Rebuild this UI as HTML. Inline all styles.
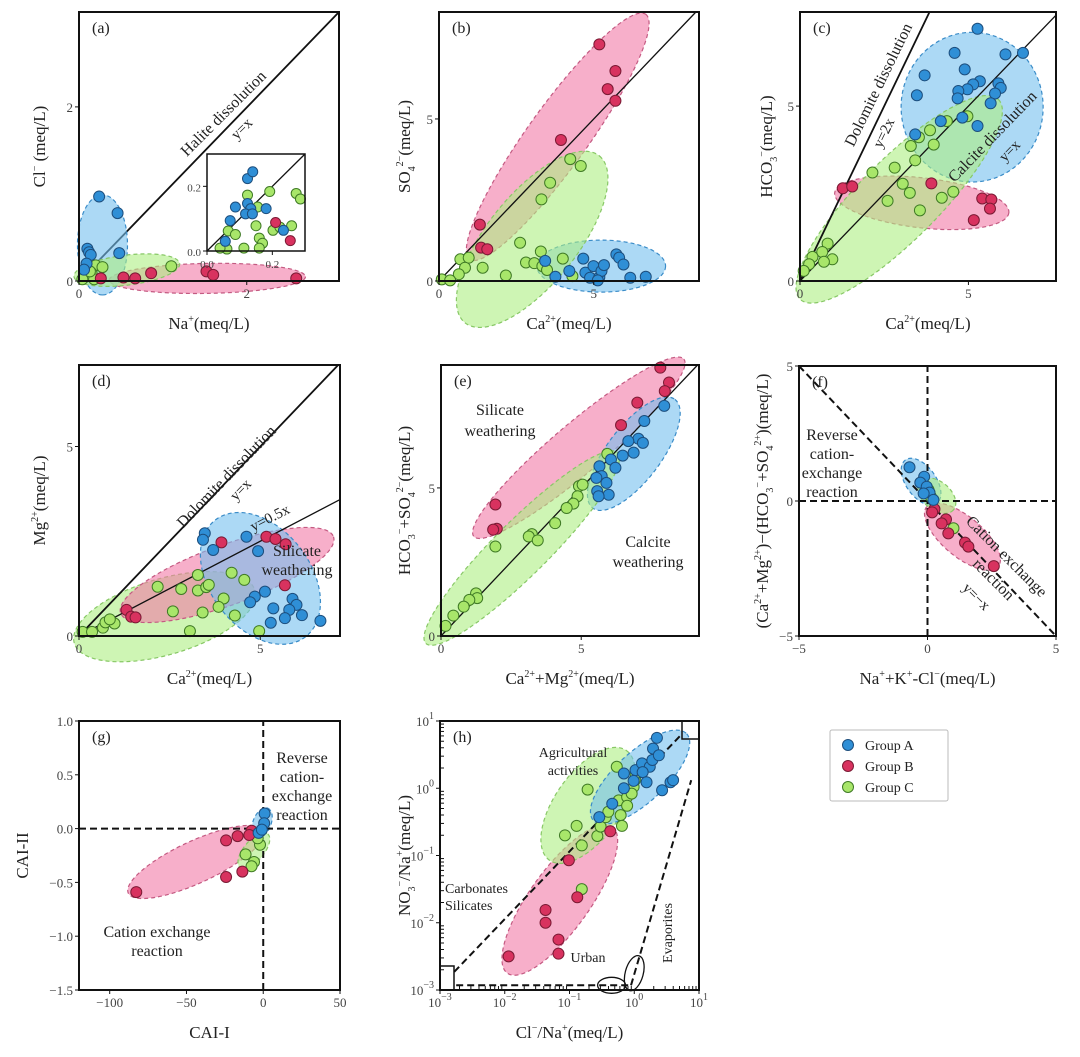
<!DOCTYPE html>
<html><head><meta charset="utf-8"><style>
body{margin:0;background:#fff}
svg{display:block;font-family:"Liberation Serif",serif}
</style></head><body>
<svg id="fig" width="1080" height="1057" viewBox="0 0 1080 1057" xmlns="http://www.w3.org/2000/svg"></svg>
<script>
// ---------- DATA ----------
// panel a (Na+ vs Cl-)
const aBlueX=[0.24,0.46,0.1,0.12,0.14,0.48,0.09,0.06];
const aBlueY=[0.97,0.78,0.37,0.33,0.3,0.32,0.2,0.13];
const aPinkX=[0.26,0.53,0.67,0.86,1.52,1.6,2.59];
const aPinkY=[0.03,0.04,0.03,0.09,0.11,0.07,0.03];
const aGreenX=[1.1,0.13,0.2,0.28,0.15,0.08,0.04,0.18,0.13];
const aGreenY=[0.17,0.16,0.18,0.16,0.09,0.05,0.02,0.02,0.11];
const insBlueX=[0.124,0.14,0.087,0.124,0.134,0.118,0.139,0.181,0.071,0.056,0.234];
const insBlueY=[0.224,0.245,0.136,0.147,0.131,0.115,0.115,0.131,0.094,0.03,0.064];
const insGreenX=[0.124,0.192,0.273,0.286,0.155,0.15,0.065,0.087,0.202,0.259,0.16,0.17,0.113,0.061,0.04,0.16,0.223];
const insGreenY=[0.173,0.184,0.178,0.161,0.136,0.078,0.062,0.051,0.064,0.078,0.04,0.024,0.009,0.006,0.009,0.009,0.074];
const insPinkX=[0.21,0.255];
const insPinkY=[0.088,0.032];
// panel b (Ca vs SO4)
const bPinkX=[5.18,5.7,5.45,5.7,3.94,1.32,1.36,1.56];
const bPinkY=[7.3,6.48,5.92,5.56,4.35,1.74,1.03,0.98];
const bGreenX=[4.24,4.58,3.59,3.31,2.62,0.69,0.96,0.84,0.64,1.41,0.09,0.36,2.16,2.81,3.08,3.29,3.34,3.49,4.0,4.31];
const bGreenY=[3.76,3.55,3.03,2.52,1.18,0.67,0.72,0.41,0.21,0.41,0.05,0.02,0.17,0.57,0.55,0.91,0.46,0.34,0.69,0.15];
const bBlueX=[3.43,3.76,4.21,4.66,4.73,4.99,4.88,5.18,5.25,5.33,5.73,5.82,5.96,6.18,6.68,5.13];
const bBlueY=[0.62,0.13,0.31,0.69,0.26,0.46,0.1,0.12,0.31,0.49,0.82,0.72,0.51,0.1,0.13,0.02];
// panel c (Ca vs HCO3)
const cBlueX=[5.27,4.59,6.62,6.1,4.89,3.7,5.34,5.14,4.97,4.7,5.89,5.96,3.47,4.68,5.79,5.66,4.18,4.82,5.27,3.42];
const cBlueY=[7.21,6.52,6.52,6.48,6.05,5.88,5.71,5.62,5.48,5.43,5.65,5.52,5.31,5.22,5.36,5.08,4.57,4.67,4.43,4.19];
const cGreenX=[4.97,4.36,3.86,3.53,3.29,3.97,3.42,2.81,2.15,3.05,3.26,2.6,4.21,4.55,3.56,0.82,0.66,0.96,0.71,0.37,0.27,0.11];
const cGreenY=[4.71,4.57,4.31,4.11,3.86,3.9,3.45,3.24,3.1,2.78,2.52,2.29,2.38,2.55,2.02,1.07,0.83,0.62,0.55,0.69,0.48,0.29];
const cPinkX=[1.27,1.55,3.9,5.41,5.68,5.64,5.16];
const cPinkY=[2.65,2.7,2.79,2.36,2.33,2.07,1.74];
// panel d (Ca vs Mg)
const dGreenX=[0.1,0.36,0.66,0.73,0.98,0.85,2.17,2.82,3.28,3.28,3.51,3.58,4.21,4.56,3.99,3.85,3.41,2.59,4.3,3.06,4.97];
const dGreenY=[0.11,0.11,0.22,0.36,0.33,0.44,1.3,1.24,1.61,1.2,1.29,1.35,1.67,1.48,0.99,0.77,0.62,0.65,0.54,0.13,0.13];
const dPinkX=[1.31,1.44,1.56,3.93,5.17,5.42,5.7,5.68];
const dPinkY=[0.69,0.51,0.49,2.47,2.62,2.56,2.42,1.34];
const dBlueX=[3.47,3.42,3.7,4.62,4.94,5.13,4.85,4.72,5.36,5.89,6.0,5.8,6.15,5.68,5.29,6.66];
const dBlueY=[2.71,2.54,2.27,2.62,2.24,1.17,1.04,0.89,0.73,0.98,0.82,0.69,0.55,0.47,0.35,0.4];
// panel e (Ca+Mg vs HCO3+SO4)
const ePinkX=[7.82,8.13,7.98,7.0,6.42,1.94,1.99,1.86];
const ePinkY=[9.06,8.56,8.27,7.88,7.12,4.44,3.62,3.59];
const eBlueX=[7.96,7.25,7.04,7.2,6.68,6.87,6.48,6.06,6.22,5.65,5.73,5.54,5.9,5.57,5.98,5.62];
const eBlueY=[7.77,7.26,6.66,6.52,6.58,6.19,6.09,5.96,5.68,5.73,5.4,5.34,5.17,4.89,4.77,4.72];
const eGreenX=[5.93,4.92,5.05,4.87,4.72,4.48,4.07,3.24,3.13,3.45,1.94,1.25,1.29,1.01,0.81,0.44,0.16];
const eGreenY=[6.15,5.06,5.11,4.72,4.47,4.32,3.81,3.44,3.36,3.23,3.02,1.44,1.28,1.22,0.99,0.69,0.34];
// panel f
const fBlueX=[-0.7,-0.13,-0.28,-0.03,0.08,0.23,-0.15];
const fBlueY=[1.25,0.9,0.68,0.53,0.31,0.04,0.28];
const fGreenX=[0.04,0.13,1.01];
const fGreenY=[0.41,0.16,-1.01];
const fPinkX=[0.27,0.18,0.72,0.55,0.81,1.46,1.59,2.58];
const fPinkY=[-0.3,-0.42,-0.68,-0.83,-1.2,-1.54,-1.69,-2.41];
// panel g (CAI-I vs CAI-II)
const gPinkX=[-82.7,-24.2,-16.7,-7.6,-24.2,-13.6,-9.1];
const gPinkY=[-0.59,-0.11,-0.07,-0.02,-0.45,-0.4,-0.06];
const gGreenX=[-11.5,-6,-7.6,-2.1,-3.6];
const gGreenY=[-0.24,-0.31,-0.35,-0.15,-0.09];
const gBlueX=[0.9,0.6,-3,-0.9];
const gBlueY=[0.14,0.05,-0.04,-0.01];
// panel h (log10 values of Cl/Na and NO3/Na)
const hPinkLX=[-1.94,-1.37,-1.37,-1.17,-1.17,-1.01,-0.88,-0.37];
const hPinkLY=[-2.5,-2.0,-1.81,-2.25,-2.46,-1.07,-1.62,-0.64];
const hGreenLX=[-0.81,-0.81,-1.07,-0.89,-0.72,-0.57,-0.52,-0.44,-0.4,-0.21,-0.19,-0.24,-0.11,-0.01,0.01,0.02,-0.27,-0.11,-0.04];
const hGreenLY=[-1.5,-0.85,-0.7,-0.56,-0.02,-0.71,-0.57,-0.43,-0.35,-0.4,-0.56,-0.18,-0.13,0.02,0.12,0.22,0.32,-0.26,-0.08];
const hBlueLX=[-0.54,-0.34,-0.16,-0.01,0.02,0.12,0.24,0.28,0.29,0.38,0.43,0.56,0.6,0.35,0.13,0.19,-0.16];
const hBlueLY=[-0.43,-0.23,0.0,0.11,0.27,0.37,0.32,0.42,0.59,0.49,-0.03,0.09,0.12,0.75,0.24,0.09,0.22];
// group ellipses: [x1,y1,x2,y2] major-axis endpoints in data units
const ellA={blue:[0.28,0.99,0.28,-0.16],pink:[0.36,0.01,2.7,0.05],green:[-0.06,0.05,1.2,0.2]};
const ellB={pink:[0.99,0.67,6.68,8.23],green:[0.84,-1.29,5.18,3.86],blue:[3.16,0.46,7.32,0.46]};
const ellC={blue:[5.11,2.83,5.11,7.11],green:[0,-0.52,5.89,5.19],pink:[1.03,2.52,6.2,1.95]};
const ellD={green:[-0.13,-0.19,4.85,1.21],pink:[1.15,0.6,7.02,2.62],blue:[3.76,3.06,6.25,-0.02]};
const ellE={pink:[1.17,3.36,8.66,9.35],blue:[5.41,4.32,8.34,7.99],green:[-0.54,-0.25,6.3,6.19]};
const ellF={blue:[-0.86,1.52,0.36,-0.09],green:[-0.28,0.72,1.01,-0.33],pink:[-0.03,-0.21,2.75,-2.43]};
const ellG={pink:[-87.9,-0.6,0,-0.02],green:[-15.2,-0.36,3,-0.05],blue:[-4.5,-0.08,3,0.19]};
const ellH={pink:[-1.96,-2.75,-0.34,-0.57],green:[-1.31,-1.07,-0.12,0.56],blue:[-0.63,-0.48,0.81,0.81]};
// tick labels
const aTicks=[0,2], bTicks=[0,5], cTicks=[0,5], dTicks=[0,5], eTicks=[0,5], fTicks=[-5,0,5];
const gXTicks=[-100,-50,0,50], gYTicks=[1.0,0.5,0.0,-0.5,-1.0,-1.5];
const hTicks=[-3,-2,-1,0,1];
const insTicks=[0.0,0.2];

// ---------- DRAWING ----------
const NS='http://www.w3.org/2000/svg';
const svg=document.getElementById('fig');
const COL={
 blue:{fill:'#74c0ef',stroke:'#3a8cc8',m:'#2f8fd6',ms:'#1d4e7d'},
 pink:{fill:'#f27aa6',stroke:'#c45a82',m:'#d8325f',ms:'#7a1a34'},
 green:{fill:'#aeee82',stroke:'#88c866',m:'#a8e66a',ms:'#3f7a25'}
};
function el(tag,attrs,parent){const e=document.createElementNS(NS,tag);for(const k in attrs)e.setAttribute(k,attrs[k]);(parent||svg).appendChild(e);return e;}
function txt(x,y,html,o,parent){o=o||{};const t=el('text',{x:x,y:y,'font-size':o.size||15,'text-anchor':o.anchor||'middle',fill:o.fill||'#222'},parent);
 if(o.rot!==undefined)t.setAttribute('transform','rotate('+o.rot+' '+x+' '+y+')');
 if(o.weight)t.setAttribute('font-weight',o.weight);
 t.innerHTML=html;return t;}
const SUP=s=>'<tspan font-size="10" baseline-shift="7">'+s+'</tspan>';
const SUB=s=>'<tspan font-size="10" baseline-shift="-5">'+s+'</tspan>';

function Panel(p){
 const g=el('g',{});
 
 
 p.g=g;
 p.sx=v=>p.x0+(v-p.xmin)/(p.xmax-p.xmin)*(p.x1-p.x0);
 p.sy=v=>p.y1-(v-p.ymin)/(p.ymax-p.ymin)*(p.y1-p.y0);
 return p;
}
function ellipse(p,e,c,hw){
 const x1=p.sx(e[0]),y1=p.sy(e[1]),x2=p.sx(e[2]),y2=p.sy(e[3]);
 const cx=(x1+x2)/2,cy=(y1+y2)/2,rx=Math.hypot(x2-x1,y2-y1)/2,ang=Math.atan2(y2-y1,x2-x1)*180/Math.PI;
 const E=el('ellipse',{cx:cx,cy:cy,rx:rx,ry:hw,transform:'rotate('+ang+' '+cx+' '+cy+')',fill:COL[c].fill,'fill-opacity':0.6,stroke:COL[c].stroke,'stroke-width':1.2,'stroke-dasharray':'4 3'},p.g);
 
 
}
function points(p,xs,ys,c,r){
 for(let i=0;i<xs.length;i++){
  const C=el('circle',{cx:p.sx(xs[i]),cy:p.sy(ys[i]),r:r||5.5,fill:COL[c].m,stroke:COL[c].ms,'stroke-width':1},p.g);
  
  
 }
}
function line(p,xa,ya,xb,yb,dash,w){
 const L=el('line',{x1:p.sx(xa),y1:p.sy(ya),x2:p.sx(xb),y2:p.sy(yb),stroke:'#111','stroke-width':w||1.8},p.g);
 if(dash)L.setAttribute('stroke-dasharray',dash);
 
 
}
function frame(p,lw){
 const R=el('rect',{x:p.x0,y:p.y0,width:p.x1-p.x0,height:p.y1-p.y0,fill:'none',stroke:'#111','stroke-width':lw||2},p.g);
 
 
}
function ticks(p,xt,yt,fmt,size){
 fmt=fmt||(v=>String(v));size=size||13;
 xt.forEach(v=>{const x=p.sx(v);el('line',{x1:x,y1:p.y1,x2:x,y2:p.y1+4,stroke:'#111'},p.g);
  const T=txt(x,p.y1+17,fmt(v,'x'),{size:size,fill:'#444'},p.g);});
 yt.forEach(v=>{const y=p.sy(v);el('line',{x1:p.x0-4,y1:y,x2:p.x0,y2:y,stroke:'#111'},p.g);
  const T=txt(p.x0-6,y+5,fmt(v,'y'),{size:size,fill:'#444',anchor:'end'},p.g);});
}
function labels(p,lab,xl,yl,ylx){
 const a=txt(p.x0+13,p.y0+21,lab,{size:16,anchor:'start'},p.g);
 const b=txt((p.x0+p.x1)/2,p.y1+48,xl,{size:17},p.g);
 const cy=(p.y0+p.y1)/2;const c=txt(ylx,cy,yl,{size:17,rot:-90},p.g);
}
function ann(p,x,y,s,o){const t=txt(x,y,s,o,p.g);return t;}

// Panel a
const A=Panel({name:'panel-a',x0:79,x1:339,y0:12,y1:281,xmin:0,xmax:3.1,ymin:0,ymax:3.09});
line(A,0,0,3.1,3.09);
ellipse(A,ellA.pink,'pink',15);ellipse(A,ellA.blue,'blue',25);ellipse(A,ellA.green,'green',15);
points(A,aGreenX,aGreenY,'green');points(A,aPinkX,aPinkY,'pink');points(A,aBlueX,aBlueY,'blue');
frame(A);ticks(A,aTicks,aTicks);labels(A,'(a)','Na'+SUP('+')+'(meq/L)','Cl'+SUP('−')+' (meq/L)',45);
ann(A,227,117,'Halite dissolution',{size:16,rot:-45});ann(A,245,132,'y=x',{size:15,rot:-45});
const I=Panel({name:'inset-a',x0:207,x1:305,y0:154,y1:251,xmin:0,xmax:0.3,ymin:0,ymax:0.3});
I.g=A.g;
el('rect',{x:207,y:154,width:98,height:97,fill:'#fff'},A.g);
line(I,0,0,0.3,0.3,null,1.3);
points(I,insGreenX,insGreenY,'green',5);points(I,insPinkX,insPinkY,'pink',5);points(I,insBlueX,insBlueY,'blue',5);
frame(I,1.5);ticks(I,insTicks,insTicks,v=>v.toFixed(1),11);

// Panel b
const B=Panel({name:'panel-b',x0:439,x1:699,y0:12,y1:281,xmin:0,xmax:8.4,ymin:0,ymax:8.3});
ellipse(B,ellB.pink,'pink',30);ellipse(B,ellB.blue,'blue',26);ellipse(B,ellB.green,'green',45);
line(B,0,0,8.3,8.3,null,1.3);
points(B,bGreenX,bGreenY,'green');points(B,bPinkX,bPinkY,'pink');points(B,bBlueX,bBlueY,'blue');
frame(B);ticks(B,bTicks,bTicks);labels(B,'(b)','Ca'+SUP('2+')+'(meq/L)','SO'+SUB('4')+SUP('2−')+'(meq/L)',410);

// Panel c
const Cp=Panel({name:'panel-c',x0:800,x1:1056,y0:12,y1:281,xmin:0,xmax:7.6,ymin:0,ymax:7.69});
ellipse(Cp,ellC.blue,'blue',71);ellipse(Cp,ellC.pink,'pink',25);ellipse(Cp,ellC.green,'green',40);
line(Cp,0,0,7.6,7.6,null,1.3);line(Cp,0,0,3.845,7.69);
points(Cp,cGreenX,cGreenY,'green');points(Cp,cPinkX,cPinkY,'pink');points(Cp,cBlueX,cBlueY,'blue');
frame(Cp);ticks(Cp,cTicks,cTicks);labels(Cp,'(c)','Ca'+SUP('2+')+'(meq/L)','HCO'+SUB('3')+SUP('−')+'(meq/L)',772);
ann(Cp,883,87,'Dolomite dissolution',{size:16,rot:-64});ann(Cp,888,135,'y=2x',{size:15,rot:-64});
ann(Cp,996,140,'Calcite dissolution',{size:16,rot:-46});ann(Cp,1013,154,'y=x',{size:15,rot:-46});

// Panel d
const D=Panel({name:'panel-d',x0:79,x1:340,y0:365,y1:636,xmin:0,xmax:7.2,ymin:0,ymax:7.15});
ellipse(D,ellD.green,'green',38);ellipse(D,ellD.pink,'pink',30);ellipse(D,ellD.blue,'blue',50);
line(D,0,0,7.15,7.15);line(D,0,0,7.2,3.6,null,1.3);
points(D,dGreenX,dGreenY,'green');points(D,dPinkX,dPinkY,'pink');points(D,dBlueX,dBlueY,'blue');
frame(D);ticks(D,dTicks,dTicks);labels(D,'(d)','Ca'+SUP('2+')+'(meq/L)','Mg'+SUP('2+')+'(meq/L)',45);
ann(D,230,480,'Dolomite dissolution',{size:16,rot:-46});ann(D,244,493,'y=x',{size:15,rot:-46});
ann(D,272,522,'y=0.5x',{size:15,rot:-27});ann(D,297,556,'Silicate',{size:16});ann(D,297,575,'weathering',{size:16});

// Panel e
const Ep=Panel({name:'panel-e',x0:441,x1:699,y0:365,y1:636,xmin:0,xmax:9.2,ymin:0,ymax:9.15});
ellipse(Ep,ellE.pink,'pink',25);ellipse(Ep,ellE.blue,'blue',27);ellipse(Ep,ellE.green,'green',27);
line(Ep,0,0,9.15,9.15,null,1.3);
points(Ep,eGreenX,eGreenY,'green');points(Ep,ePinkX,ePinkY,'pink');points(Ep,eBlueX,eBlueY,'blue');
frame(Ep);ticks(Ep,eTicks,eTicks);labels(Ep,'(e)','Ca'+SUP('2+')+'+Mg'+SUP('2+')+'(meq/L)','HCO'+SUB('3')+SUP('−')+'+SO'+SUB('4')+SUP('2−')+'(meq/L)',410);
ann(Ep,500,415,'Silicate',{size:16});ann(Ep,500,436,'weathering',{size:16});
ann(Ep,648,547,'Calcite',{size:16});ann(Ep,648,567,'weathering',{size:16});

// Panel f
const F=Panel({name:'panel-f',x0:799,x1:1056,y0:366,y1:636,xmin:-5,xmax:5,ymin:-5,ymax:5});
ellipse(F,ellF.pink,'pink',20);ellipse(F,ellF.blue,'blue',15);ellipse(F,ellF.green,'green',14);
line(F,-5,5,5,-5,'7 4',2);line(F,0,-5,0,5,'7 4',2);line(F,-5,0,5,0,'7 4',2);
points(F,fGreenX,fGreenY,'green');points(F,fPinkX,fPinkY,'pink');points(F,fBlueX,fBlueY,'blue');
frame(F);ticks(F,fTicks,fTicks,v=>v<0?'−'+(-v):String(v));
labels(F,'(f)','Na'+SUP('+')+'+K'+SUP('+')+'-Cl'+SUP('−')+'(meq/L)','(Ca'+SUP('2+')+'+Mg'+SUP('2+')+')−(HCO'+SUB('3')+SUP('−')+'+SO'+SUB('4')+SUP('2+')+')(meq/L)',768);
ann(F,832,440,'Reverse',{size:16});ann(F,832,459,'cation-',{size:16});ann(F,832,478,'exchange',{size:16});ann(F,832,497,'reaction',{size:16});
ann(F,1003,560,'Cation exchange',{size:16,rot:45});ann(F,990,583,'reaction',{size:16,rot:45});ann(F,973,600,'y=−x',{size:15,rot:45});

// Panel g
const G=Panel({name:'panel-g',x0:79,x1:340,y0:721,y1:990,xmin:-120,xmax:50,ymin:-1.5,ymax:1.0});
ellipse(G,ellG.pink,'pink',21);ellipse(G,ellG.green,'green',10);ellipse(G,ellG.blue,'blue',9);
line(G,0,-1.5,0,1.0,'7 4',2);line(G,-120,0,50,0,'7 4',2);
points(G,gGreenX,gGreenY,'green');points(G,gPinkX,gPinkY,'pink');points(G,gBlueX,gBlueY,'blue');
frame(G);ticks(G,gXTicks,gYTicks,(v,ax)=>{const s=ax==='y'?Math.abs(v).toFixed(1):String(Math.abs(v));return v<0?'−'+s:s;});
labels(G,'(g)','CAI-I','CAI-II',28);
ann(G,302,763,'Reverse',{size:16});ann(G,302,782,'cation-',{size:16});ann(G,302,801,'exchange',{size:16});ann(G,302,820,'reaction',{size:16});
ann(G,157,937,'Cation exchange',{size:16});ann(G,157,956,'reaction',{size:16});

// Panel h (log axes, values stored as log10)
const H=Panel({name:'panel-h',x0:440,x1:699,y0:721,y1:990,xmin:-3,xmax:1,ymin:-3,ymax:1});
ellipse(H,ellH.pink,'pink',30);ellipse(H,ellH.green,'green',33);ellipse(H,ellH.blue,'blue',25);
line(H,-2.78,-2.73,0.74,0.81,'7 4',2);line(H,-2.75,-2.93,-0.05,-2.93,'7 4',2);line(H,-0.05,-2.93,0.88,0.12,'7 4',2);
el('rect',{x:440,y:966,width:14,height:24,fill:'none',stroke:'#111','stroke-width':1.5},H.g);
el('rect',{x:682,y:721,width:17,height:18,fill:'none',stroke:'#111','stroke-width':1.5},H.g);
el('ellipse',{cx:H.sx(-0.35),cy:H.sy(-2.93),rx:14,ry:8,fill:'none',stroke:'#111','stroke-width':1.3},H.g);
el('ellipse',{cx:H.sx(0.0),cy:H.sy(-2.75),rx:9,ry:18,fill:'none',stroke:'#111','stroke-width':1.3,transform:'rotate(15 '+H.sx(0.0)+' '+H.sy(-2.75)+')'},H.g);
points(H,hGreenLX,hGreenLY,'green');points(H,hPinkLX,hPinkLY,'pink');points(H,hBlueLX,hBlueLY,'blue');
for(let d=-3;d<1;d++)for(let k=2;k<10;k++){const v=d+Math.log10(k);
 el('line',{x1:H.sx(v),y1:990,x2:H.sx(v),y2:986,stroke:'#111'},H.g);el('line',{x1:440,y1:H.sy(v),x2:444,y2:H.sy(v),stroke:'#111'},H.g);}
frame(H);ticks(H,hTicks,hTicks,v=>'10'+SUP(v<0?'−'+(-v):String(v)));
labels(H,'(h)','Cl'+SUP('−')+'/Na'+SUP('+')+'(meq/L)','NO'+SUB('3')+SUP('−')+'/Na'+SUP('+')+'(meq/L)',410);
ann(H,573,757,'Agricultural',{size:14});ann(H,573,775,'activities',{size:14});
ann(H,445,893,'Carbonates',{size:14,anchor:'start'});ann(H,445,910,'Silicates',{size:14,anchor:'start'});
ann(H,588,962,'Urban',{size:14});ann(H,672,933,'Evaporites',{size:14,rot:-90});

// Legend
const Lg=el('g',{});


el('rect',{x:830,y:730,width:118,height:71,fill:'#fff',stroke:'#bbb','stroke-width':1,rx:2},Lg);
const legNames=['Group A','Group B','Group C'],legCols=['blue','pink','green'];
legNames.forEach((n,i)=>{const y=745+i*21;
 const c=el('circle',{cx:848,cy:y,r:5.5,fill:COL[legCols[i]].m,stroke:COL[legCols[i]].ms},Lg);
 
 
 const t=txt(865,y+5,n,{size:14,anchor:'start'},Lg);
 
 
});
</script>
</body></html>
